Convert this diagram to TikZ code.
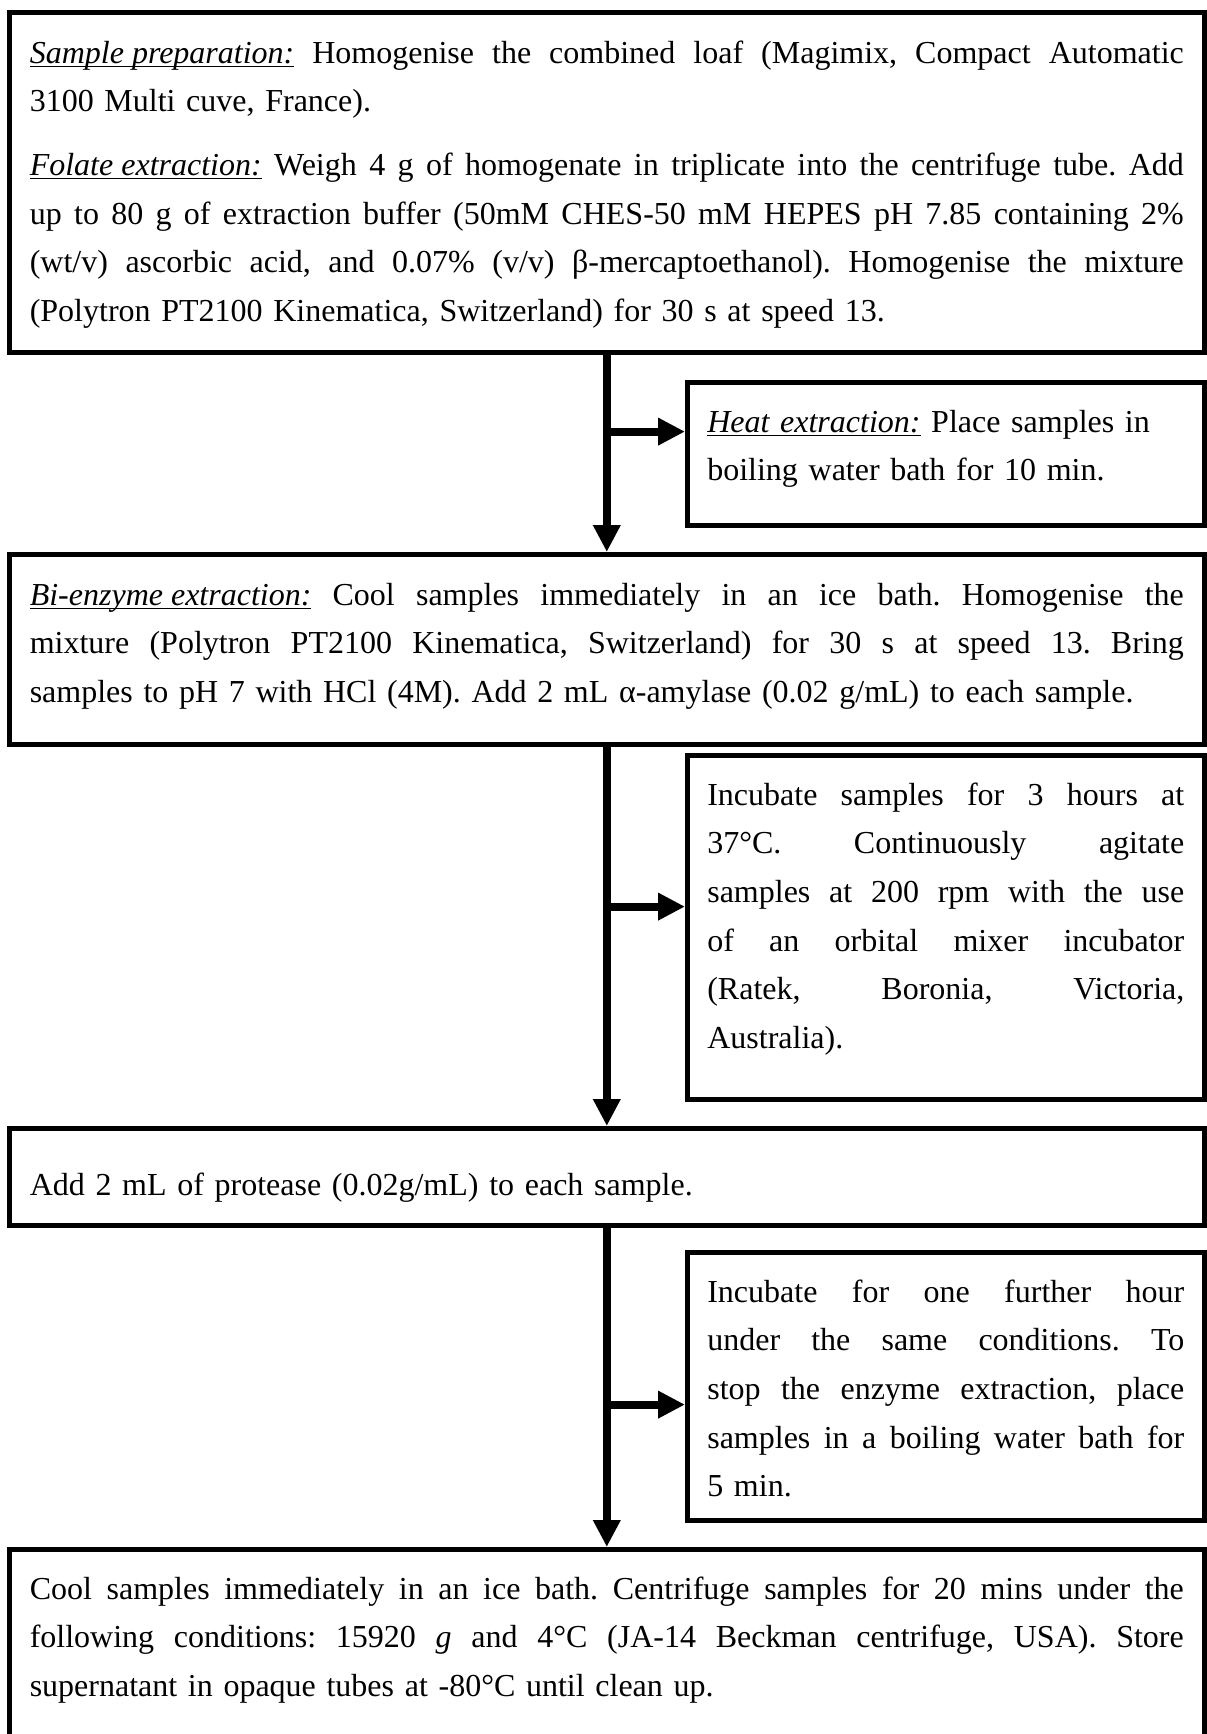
\documentclass[tikz,border=0pt]{standalone}
\usepackage{fontspec}
\setmainfont{Liberation Serif}
\usetikzlibrary{arrows.meta}

\newsavebox\headbox
\newcommand{\head}[1]{\sbox\headbox{\itshape #1}\rlap{\rule[-2pt]{\wd\headbox}{0.7pt}}\usebox\headbox}
\newcommand{\jline}[2][577pt]{\leavevmode\hbox to #1{\spaceskip=\fontdimen2\font plus 1fil\relax #2}}

\begin{document}
\frenchspacing
\begin{tikzpicture}[x=0.5pt,y=-0.5pt,
        stage/.style={draw,line width=2.3pt,anchor=north west,inner xsep=10.25pt,inner ysep=0pt,
            text width=577pt,align=left,font=\fontsize{16}{24.3}\selectfont},
        note/.style={stage,inner xsep=10pt,text width=238.5pt},
        flow/.style={line width=4pt,-{Triangle[length=13.5pt,width=13pt]}}]
        \useasboundingbox (0,0) rectangle (1206,1734);
        % main column
        \node[stage,text height=25.5pt,text depth=144.5pt] (prep) at (7,10) {%
            \jline{\head{Sample preparation:} Homogenise the combined loaf (Magimix, Compact Automatic}\\
            3100 Multi cuve, France).\\[7.5pt]
            \jline{\head{Folate extraction:} Weigh 4 g of homogenate in triplicate into the centrifuge tube. Add}\\
            \jline{up to 80 g of extraction buffer (50mM CHES-50 mM HEPES pH 7.85 containing 2\%}\\
            \jline{(wt/v) ascorbic acid, and 0.07\% (v/v) β-mercaptoethanol). Homogenise the mixture}\\
            (Polytron PT2100 Kinematica, Switzerland) for 30 s at speed 13.};
        \node[stage,text height=25.5pt,text depth=69.5pt] (enzyme) at (7,552) {%
            \jline{\head{Bi-enzyme extraction:} Cool samples immediately in an ice bath. Homogenise the}\\
            \jline{mixture (Polytron PT2100 Kinematica, Switzerland) for 30 s at speed 13. Bring}\\
            samples to pH 7 with HCl (4M). Add 2 mL α-amylase (0.02 g/mL) to each sample.};
        \node[stage,text height=33.5pt,text depth=15pt] (protease) at (7,1126) {%
            Add 2 mL of protease (0.02g/mL) to each sample.};
        \node[stage,text height=25pt,text depth=74pt] (store) at (7,1547) {%
            \jline{Cool samples immediately in an ice bath. Centrifuge samples for 20 mins under the}\\
            \jline{following conditions: 15920 \textit{g} and 4°C (JA-14 Beckman centrifuge, USA). Store}\\
            supernatant in opaque tubes at -80°C until clean up.};
        % side steps
        \node[note,text height=25pt,text depth=46.5pt] (heat) at (685,380) {%
            \head{Heat extraction:} Place samples in\\
            boiling water bath for 10 min.};
        \node[note,text height=25pt,text depth=147pt] (incub) at (685,753) {%
            \jline[238.5pt]{Incubate samples for 3 hours at}\\
            \jline[238.5pt]{37°C. Continuously agitate}\\
            \jline[238.5pt]{samples at 200 rpm with the use}\\
            \jline[238.5pt]{of an orbital mixer incubator}\\
            \jline[238.5pt]{(Ratek, Boronia, Victoria,}\\
            Australia).};
        \node[note,text height=25pt,text depth=109pt] (stop) at (685,1250) {%
            \jline[238.5pt]{Incubate for one further hour}\\
            \jline[238.5pt]{under the same conditions. To}\\
            \jline[238.5pt]{stop the enzyme extraction, place}\\
            \jline[238.5pt]{samples in a boiling water bath for}\\
            5 min.};
        % arrows
        \draw[flow] (prep.south) -- (enzyme.north);
        \draw[flow] (enzyme.south) -- (protease.north);
        \draw[flow] (protease.south) -- (store.north);
        \path (prep.south) ++(0,77) coordinate (fork1);
        \path (enzyme.south) ++(0,160) coordinate (fork2);
        \path (protease.south) ++(0,177) coordinate (fork3);
        \draw[flow] (fork1) -- (fork1 -| heat.west);
        \draw[flow] (fork2) -- (fork2 -| incub.west);
        \draw[flow] (fork3) -- (fork3 -| stop.west);
    \end{tikzpicture}
\end{document}
